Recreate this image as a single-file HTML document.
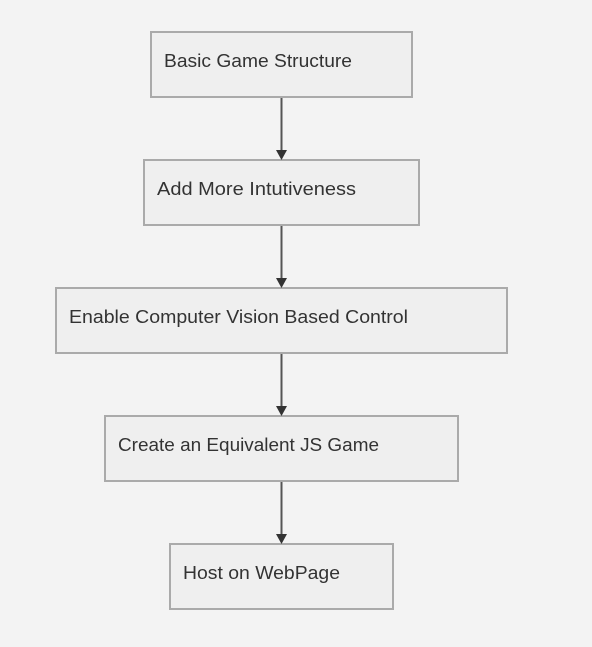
<!DOCTYPE html>
<html><head><style>
html,body{margin:0;padding:0;background:#f3f3f3;}
svg{display:block;}
text{font-family:"Liberation Sans",sans-serif;font-size:18px;fill:#333;}
</style></head><body>
<svg width="592" height="647" viewBox="0 0 592 647" xmlns="http://www.w3.org/2000/svg">
<rect width="592" height="647" fill="#f3f3f3"/>
<g fill="#efefef" stroke="#aaa" stroke-width="2">
<rect x="151" y="32" width="261" height="65"/>
<rect x="144" y="160" width="275" height="65"/>
<rect x="56" y="288" width="451" height="65"/>
<rect x="105" y="416" width="353" height="65"/>
<rect x="170" y="544" width="223" height="65"/>
</g>
<g stroke="#555" stroke-width="2">
<line x1="281.5" y1="98" x2="281.5" y2="152"/>
<line x1="281.5" y1="226" x2="281.5" y2="280"/>
<line x1="281.5" y1="354" x2="281.5" y2="408"/>
<line x1="281.5" y1="482" x2="281.5" y2="536"/>
</g>
<g fill="#333">
<polygon points="276,150 287,150 281.5,160"/>
<polygon points="276,278 287,278 281.5,288"/>
<polygon points="276,406 287,406 281.5,416"/>
<polygon points="276,534 287,534 281.5,544"/>
</g>
<text x="164" y="67" textLength="188" lengthAdjust="spacingAndGlyphs">Basic Game Structure</text>
<text x="157" y="195" textLength="199" lengthAdjust="spacingAndGlyphs">Add More Intutiveness</text>
<text x="69" y="323" textLength="339" lengthAdjust="spacingAndGlyphs">Enable Computer Vision Based Control</text>
<text x="118" y="451" textLength="261" lengthAdjust="spacingAndGlyphs">Create an Equivalent JS Game</text>
<text x="183" y="579" textLength="157" lengthAdjust="spacingAndGlyphs">Host on WebPage</text>
</svg>
</body></html>
